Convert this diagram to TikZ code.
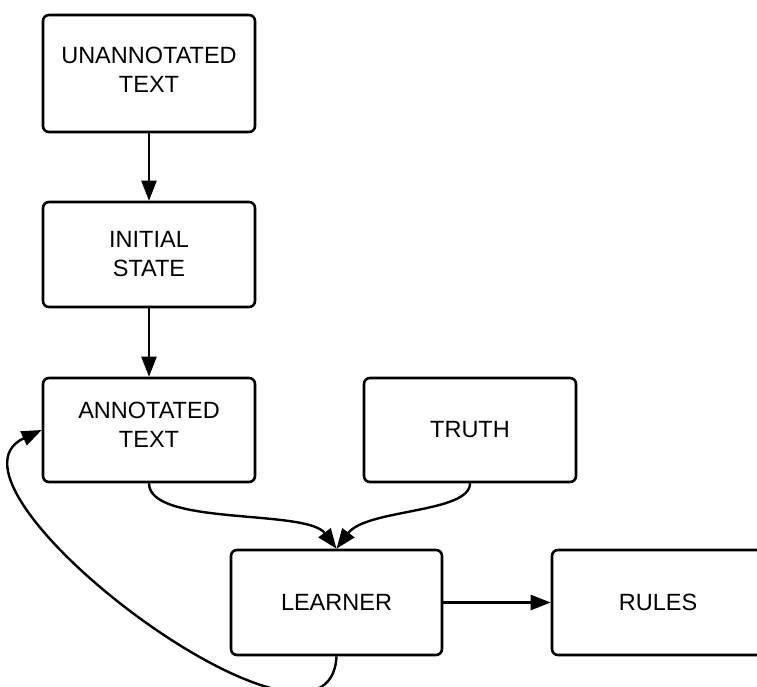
\documentclass[tikz,border=0pt]{standalone}
\usepackage{fontspec}
\setmainfont{Liberation Sans}
\usetikzlibrary{arrows.meta}
\begin{document}
\begin{tikzpicture}[x=1pt,y=1pt,
  box/.style={draw, line width=2.6pt, rounded corners=6pt, minimum width=212pt, inner sep=0pt},
  txt/.style={align=center, font=\fontsize{23.5}{29}\selectfont, inner sep=0pt},
  arr/.style={line width=2.4pt, -{Triangle[length=20pt,width=15pt]}}]
\useasboundingbox (0,0) rectangle (757,686);
\clip (0,0) rectangle (757,686);
\node[box, minimum height=117pt] (ua) at (149,612.5) {};
\node[box, minimum height=105pt] (is) at (149,431.5) {};
\node[box, minimum height=104pt] (at) at (149,256) {};
\node[box, minimum height=104pt] (tr) at (470,256) {};
\node[box, minimum height=105pt, minimum width=211pt] (le) at (336.5,83.5) {};
\node[box, minimum height=105pt] (ru) at (658,83.5) {};
\node[txt] (uat) at ([yshift=4pt]ua.center) {UNANNOTATED\\TEXT};
\node[txt] (ist) at (is.center) {INITIAL\\STATE};
\node[txt] (att) at ([yshift=5pt]at.center) {ANNOTATED\\TEXT};
\node[txt] (trt) at (tr.center) {TRUTH};
\node[txt] (let) at (le.center) {LEARNER};
\node[txt] (rut) at (ru.center) {RULES};
\draw[arr] (ua.south) -- (is.north);
\draw[arr] (is.south) -- (at.north);
\draw[arr] (le.east) -- (ru.west);
\draw[arr] (at.south) .. controls +(0,-43) and +(-30,40) .. (le.north);
\draw[arr] (tr.south) .. controls +(0,-30) and +(30,40) .. (le.north);
\draw[arr] (le.south) .. controls (330,-110) and (-80,200) .. (at.west);
\end{tikzpicture}
\end{document}
